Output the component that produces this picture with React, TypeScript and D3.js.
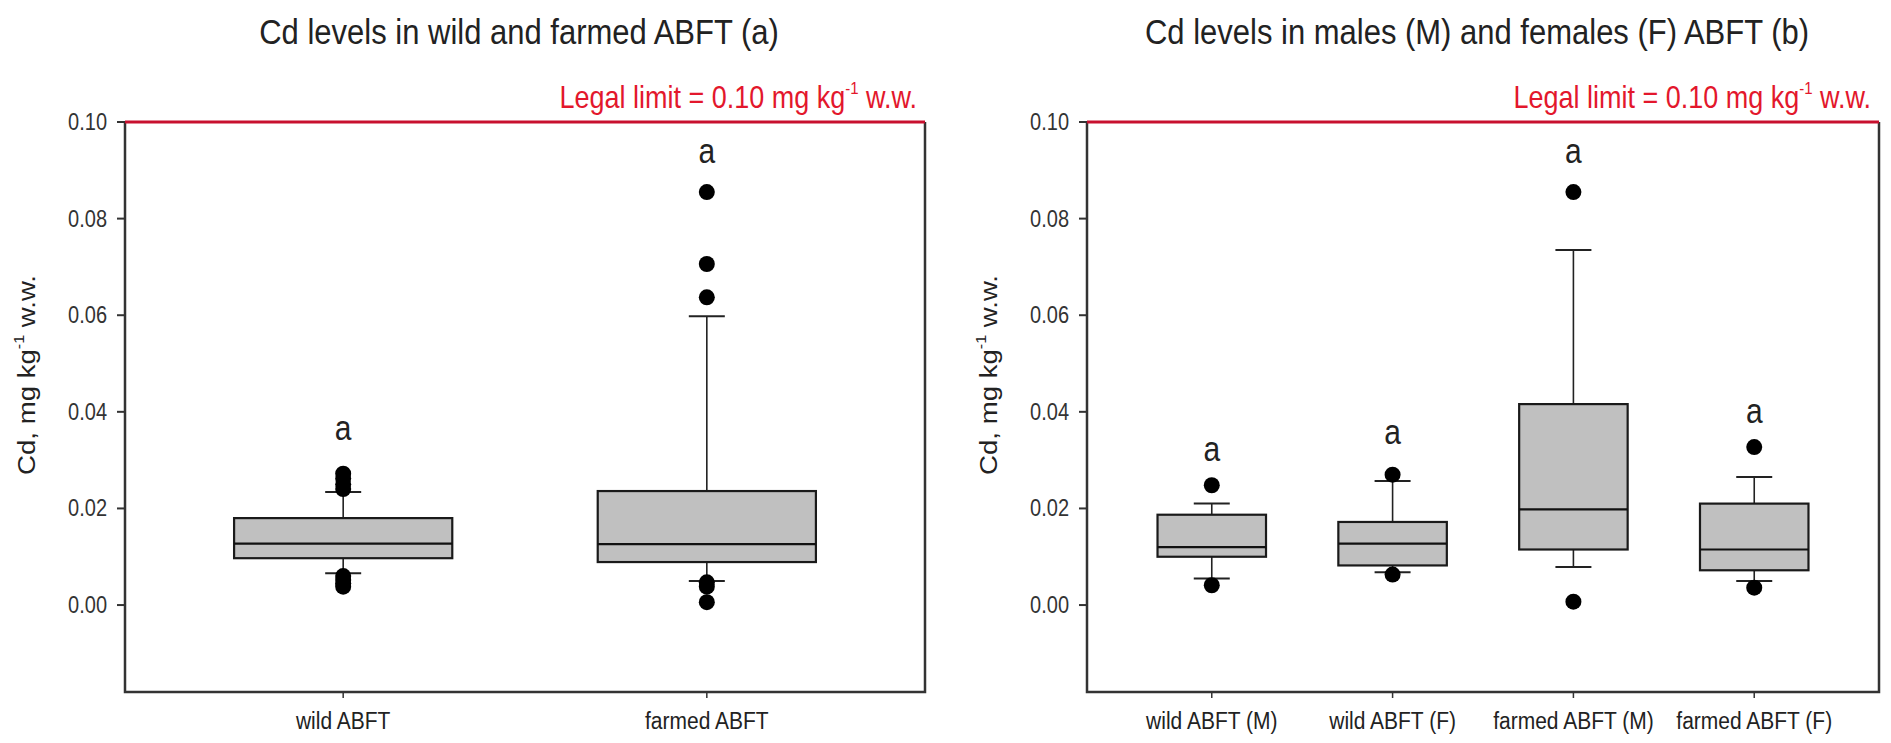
import React from "react";
import { scaleLinear, scalePoint, format } from "d3";

// panel (a)
const wildFarmedCats = ["wild ABFT", "farmed ABFT"];
const wildFarmedQ1 = [0.0097, 0.0089];
const wildFarmedMedian = [0.0127, 0.0126];
const wildFarmedQ3 = [0.018, 0.0236];
const wildFarmedLowCap = [0.0066, 0.005];
const wildFarmedHighCap = [0.0234, 0.0598];
const wildFarmedOutliers = [
  [0.0272, 0.0262, 0.025, 0.024, 0.006, 0.0052, 0.0045, 0.0038],
  [0.0855, 0.0706, 0.0637, 0.0047, 0.0038, 0.0006],
];
const wildFarmedLetterY = [0.0358, 0.0932];

// panel (b)
const sexCats = ["wild ABFT (M)", "wild ABFT (F)", "farmed ABFT (M)", "farmed ABFT (F)"];
const sexQ1 = [0.01, 0.0082, 0.0115, 0.0072];
const sexMedian = [0.012, 0.0127, 0.0198, 0.0115];
const sexQ3 = [0.0187, 0.0172, 0.0416, 0.021];
const sexLowCap = [0.0055, 0.0068, 0.0079, 0.005];
const sexHighCap = [0.021, 0.0257, 0.0735, 0.0265];
const sexOutliers = [
  [0.0248, 0.0041],
  [0.027, 0.0063],
  [0.0855, 0.0007],
  [0.0327, 0.0036],
];
const sexLetterY = [0.0315, 0.0349, 0.0932, 0.0393];

const yTicks = [0, 0.02, 0.04, 0.06, 0.08, 0.1];
const legalLimit = 0.1;

const FONT = "'Liberation Sans', Arial, Helvetica, sans-serif";
const STRETCH = 1.15;

const Txt = ({ x, y, size, anchor = "middle", fill = "#222", children }: any) => (
  <text
    transform={`translate(${x},${y}) scale(1,${STRETCH})`}
    fontSize={size}
    textAnchor={anchor}
    fontFamily={FONT}
    fill={fill}
  >
    {children}
  </text>
);

const Panel = ({ left, right, title, cats, q1, med, q3, lo, hi, outliers, letterY, padding }: any) => {
  const top = 122;
  const bottom = 692;
  const y = scaleLinear().domain([-0.018, 0.1]).range([bottom, top]);
  const x = scalePoint().domain(cats).range([left, right]).padding(padding);
  const step = x.step();
  const boxW = step * 0.6;
  const capW = 36;
  const fmt = format(".2f");
  const mid = (left + right) / 2;

  return (
    <g>
      <Txt x={mid - 6} y={44} size={31}>{title}</Txt>

      {/* y axis ticks */}
      {yTicks.map((t) => (
        <g key={t}>
          <line x1={left - 8} x2={left} y1={y(t)} y2={y(t)} stroke="#333" strokeWidth={2} />
          <Txt x={left - 18} y={y(t) + 8} size={20} anchor="end" fill="#333">{fmt(t)}</Txt>
        </g>
      ))}

      <text
        transform={`translate(${left - 90},${(top + bottom) / 2 - 32}) scale(1,${STRETCH}) rotate(-90)`}
        fontSize={24}
        textAnchor="middle"
        fontFamily={FONT}
        fill="#222"
      >
        Cd, mg kg<tspan fontSize={14} dy={-11}>-1</tspan>
        <tspan dy={11}> w.w.</tspan>
      </text>

      {/* boxes */}
      {cats.map((c: string, i: number) => {
        const cx = x(c) as number;
        return (
          <g key={c}>
            <line x1={cx} x2={cx} y1={y(q3[i])} y2={y(hi[i])} stroke="#222" strokeWidth={1.6} />
            <line x1={cx} x2={cx} y1={y(q1[i])} y2={y(lo[i])} stroke="#222" strokeWidth={1.6} />
            <line x1={cx - capW / 2} x2={cx + capW / 2} y1={y(hi[i])} y2={y(hi[i])} stroke="#222" strokeWidth={2} />
            <line x1={cx - capW / 2} x2={cx + capW / 2} y1={y(lo[i])} y2={y(lo[i])} stroke="#222" strokeWidth={2} />
            <rect
              x={cx - boxW / 2}
              y={y(q3[i])}
              width={boxW}
              height={y(q1[i]) - y(q3[i])}
              fill="#c0c0c0"
              stroke="#1a1a1a"
              strokeWidth={2.2}
            />
            <line x1={cx - boxW / 2} x2={cx + boxW / 2} y1={y(med[i])} y2={y(med[i])} stroke="#111" strokeWidth={2.2} />
            {outliers[i].map((v: number, j: number) => (
              <circle key={j} cx={cx} cy={y(v)} r={8} fill="#000" />
            ))}
            <Txt x={cx} y={y(letterY[i]) + 8} size={30} fill="#222">a</Txt>
            <line x1={cx} x2={cx} y1={bottom} y2={bottom + 6} stroke="#333" strokeWidth={1.5} />
            <Txt x={cx} y={bottom + 37} size={21} fill="#222">{c}</Txt>
          </g>
        );
      })}

      {/* frame */}
      <path
        d={`M${left},${top} L${left},${bottom} L${right},${bottom} L${right},${top}`}
        fill="none"
        stroke="#333"
        strokeWidth={2.5}
      />
      <line x1={left} x2={right} y1={y(legalLimit)} y2={y(legalLimit)} stroke="#c8102e" strokeWidth={3} />
      <text
        transform={`translate(${right - 8},${y(legalLimit) - 14}) scale(1,${STRETCH})`}
        fontSize={27}
        textAnchor="end"
        fontFamily={FONT}
        fill="#e3172c"
      >
        Legal limit = 0.10 mg kg<tspan fontSize={15} dy={-12}>-1</tspan>
        <tspan dy={12}> w.w.</tspan>
      </text>
    </g>
  );
};

export default function App() {
  return (
    <svg
      width={1891}
      height={743}
      style={{ position: "absolute", left: 0, top: 0, background: "#fff" }}
    >
      <rect width={1891} height={743} fill="#fff" />
      <Panel
        left={125}
        right={925}
        title="Cd levels in wild and farmed ABFT (a)"
        cats={wildFarmedCats}
        q1={wildFarmedQ1}
        med={wildFarmedMedian}
        q3={wildFarmedQ3}
        lo={wildFarmedLowCap}
        hi={wildFarmedHighCap}
        outliers={wildFarmedOutliers}
        letterY={wildFarmedLetterY}
        padding={0.6}
      />
      <Panel
        left={1087}
        right={1879}
        title="Cd levels in males (M) and females (F) ABFT (b)"
        cats={sexCats}
        q1={sexQ1}
        med={sexMedian}
        q3={sexQ3}
        lo={sexLowCap}
        hi={sexHighCap}
        outliers={sexOutliers}
        letterY={sexLetterY}
        padding={0.69}
      />
    </svg>
  );
}
